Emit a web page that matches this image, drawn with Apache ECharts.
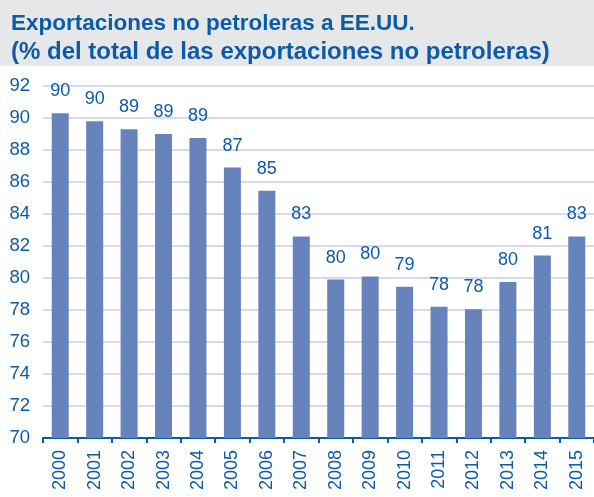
<!DOCTYPE html>
<html>
<head>
<meta charset="utf-8">
<script src="https://cdn.jsdelivr.net/npm/echarts@6/dist/echarts.min.js"></script>
<style>
  html, body { margin: 0; padding: 0; background: #fff; }
  #chart { width: 594px; height: 497px; }
</style>
</head>
<body>
<div id="chart"></div>
<script>
var years = ['2000', '2001', '2002', '2003', '2004', '2005', '2006', '2007',
             '2008', '2009', '2010', '2011', '2012', '2013', '2014', '2015'];
var shares = [90.3, 89.8, 89.3, 89.0, 88.75, 86.9, 85.45, 82.6,
              79.9, 80.1, 79.45, 78.2, 78.05, 79.75, 81.4, 82.6];
var titleLines = ['Exportaciones no petroleras a EE.UU.',
                  '(% del total de las exportaciones no petroleras)'];

var blue = '#0d5ba6';
var font = 'Liberation Sans, Arial';
var chart = echarts.init(document.getElementById('chart'));
chart.setOption({
    animation: false,
    graphic: [{
        type: 'rect',
        left: 0, top: 0,
        shape: { width: 594, height: 66 },
        style: { fill: '#e6e7e9' },
        z: -1
    }],
    title: {
        text: '{a|' + titleLines[0] + '}\n{b|' + titleLines[1] + '}',
        left: 6, top: 4,
        textStyle: {
            rich: {
                a: { fontFamily: font, fontWeight: 'bold', fontSize: 22.5, lineHeight: 29, color: blue },
                b: { fontFamily: font, fontWeight: 'bold', fontSize: 24, lineHeight: 29, color: blue }
            }
        }
    },
    grid: { left: 43, top: 86, width: 552, height: 352 },
    xAxis: {
        type: 'category',
        data: years,
        axisLine: { lineStyle: { color: blue, width: 2 } },
        axisTick: { show: true, length: 5, lineStyle: { color: blue, width: 2 } },
        axisLabel: {
            rotate: 90,
            color: blue,
            fontFamily: font,
            fontSize: 18,
            margin: 12
        }
    },
    yAxis: {
        type: 'value',
        min: 70, max: 92, interval: 2,
        axisLine: { show: false },
        axisTick: { show: false },
        axisLabel: {
            color: blue,
            fontFamily: font,
            fontSize: 18.5,
            margin: 13
        },
        splitLine: { lineStyle: { color: '#c8cee8', width: 1.5 } }
    },
    series: [{
        type: 'bar',
        data: shares,
        barWidth: 17,
        itemStyle: { color: '#6783bb' },
        label: {
            show: true,
            position: 'top',
            distance: 13,
            color: blue,
            fontFamily: font,
            fontSize: 18,
            formatter: function (p) { return Math.round(p.value); }
        }
    }]
});
</script>
</body>
</html>
